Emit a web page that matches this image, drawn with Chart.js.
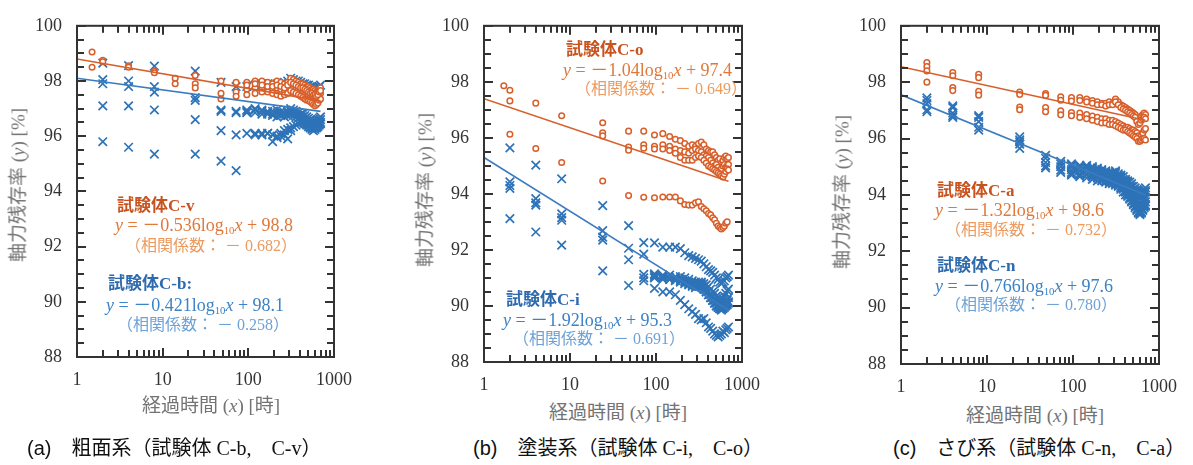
<!DOCTYPE html>
<html>
<head>
<meta charset="utf-8">
<script src="https://cdn.jsdelivr.net/npm/chart.js@4.4.1/dist/chart.umd.min.js"></script>
<style>
  body { margin: 0; background: #fff; width: 1193px; height: 465px; position: relative; overflow: hidden;
         font-family: "Liberation Serif", "Times New Roman", "Noto Sans CJK JP", serif; }
  .panel { position: absolute; top: 0; height: 400px; }
  .t { position: absolute; white-space: nowrap; line-height: 1; }
  .ttl { font-size: 17px; font-weight: bold; }
  .eq { font-size: 18px; }
  .cor { font-size: 16px; }
  .o1 { color: #c9531f; } .o2 { color: #e0783a; } .o3 { color: #ec9a5e; }
  .b1 { color: #2e6aae; } .b2 { color: #3b82c6; } .b3 { color: #6ea2d6; }
  .ax { position: absolute; white-space: nowrap; line-height: 1; font-size: 19px; color: #737373;
        transform: translate(-50%, -50%); }
  .ay { transform: translate(-50%, -50%) rotate(-90deg); }
  .cap { position: absolute; white-space: nowrap; line-height: 1; font-size: 20px; color: #111; }
  .cap span { font-family: "Liberation Sans", sans-serif; }
  sub { font-size: 60%; vertical-align: -0.25em; line-height: 0; }
</style>
</head>
<body>
<div class="panel" style="left:0;width:364px"><canvas id="ca"></canvas></div>
<div class="panel" style="left:400px;width:372px"><canvas id="cb"></canvas></div>
<div class="panel" style="left:820px;width:369px"><canvas id="cc"></canvas></div>

<!-- (a) -->
<div class="t ttl o1" style="left:117px;top:197px">試験体C-v</div>
<div class="t eq o2" style="left:115px;top:216px"><i>y</i> = －0.536log<sub>10</sub><i>x</i> + 98.8</div>
<div class="t cor o3" style="left:125px;top:238px">（相関係数： － 0.682）</div>
<div class="t ttl b1" style="left:108px;top:275px">試験体C-b:</div>
<div class="t eq b2" style="left:106px;top:296px"><i>y</i> = －0.421log<sub>10</sub><i>x</i> + 98.1</div>
<div class="t cor b3" style="left:117px;top:317px">（相関係数： － 0.258）</div>
<div class="ax ay" style="left:18px;top:185px">軸力残存率 (<i>y</i>) [%]</div>
<div class="ax" style="left:211px;top:405px">経過時間 (<i>x</i>) [時]</div>
<div class="cap" style="left:27px;top:438px"><span>(a)</span>　粗面系（試験体 C-b,　C-v）</div>

<!-- (b) -->
<div class="t ttl o1" style="left:566px;top:41px">試験体C-o</div>
<div class="t eq o2" style="left:563px;top:61px"><i>y</i> = －1.04log<sub>10</sub><i>x</i> + 97.4</div>
<div class="t cor o3" style="left:575px;top:81px">（相関係数： － 0.649）</div>
<div class="t ttl b1" style="left:506px;top:291px">試験体C-i</div>
<div class="t eq b2" style="left:503px;top:311px"><i>y</i> = －1.92log<sub>10</sub><i>x</i> + 95.3</div>
<div class="t cor b3" style="left:513px;top:331px">（相関係数： － 0.691）</div>
<div class="ax ay" style="left:425px;top:190px">軸力残存率 (<i>y</i>) [%]</div>
<div class="ax" style="left:618px;top:412px">経過時間 (<i>x</i>) [時]</div>
<div class="cap" style="left:473px;top:438px"><span>(b)</span>　塗装系（試験体 C-i,　C-o）</div>

<!-- (c) -->
<div class="t ttl o1" style="left:937px;top:182px">試験体C-a</div>
<div class="t eq o2" style="left:935px;top:201px"><i>y</i> = －1.32log<sub>10</sub><i>x</i> + 98.6</div>
<div class="t cor o3" style="left:945px;top:222px">（相関係数： － 0.732）</div>
<div class="t ttl b1" style="left:937px;top:257px">試験体C-n</div>
<div class="t eq b2" style="left:935px;top:277px"><i>y</i> = －0.766log<sub>10</sub><i>x</i> + 97.6</div>
<div class="t cor b3" style="left:945px;top:297px">（相関係数： － 0.780）</div>
<div class="ax ay" style="left:842px;top:192px">軸力残存率 (<i>y</i>) [%]</div>
<div class="ax" style="left:1035px;top:415px">経過時間 (<i>x</i>) [時]</div>
<div class="cap" style="left:893px;top:438px"><span>(c)</span>　さび系（試験体 C-n,　C-a）</div>

<script>
// elapsed hours of every reading (same schedule for all bolts)
const hours = [2, 4, 8, 24, 48, 72, 96, 120, 144, 168, 192, 216, 240, 264, 288, 312, 336, 360,
               384, 408, 432, 456, 480, 504, 528, 552, 576, 600, 624, 648, 672, 696];
const xLabels = [1, 10, 100, 1000];
const xMinor = [2, 3, 4, 5, 6, 7, 8, 9, 20, 30, 40, 50, 60, 70, 80, 90, 200, 300, 400, 500, 600, 700, 800, 900];
const yLabels = [88, 90, 92, 94, 96, 98, 100];
const yMinor = [88.5, 89, 89.5, 90.5, 91, 91.5, 92.5, 93, 93.5, 94.5, 95, 95.5, 96.5, 97, 97.5, 98.5, 99, 99.5];
const fitHours = [1, 696];
const N = null;

// (a) C-v (circles)
const cvExtraHours = [1.5, 1.5, 14, 14];
const cvExtraVals = [99.05, 98.5, 98.1, 97.9];
const cv1 = [98.75, 98.55, 98.35, 98.2, 98.0, 97.95, 97.95, 98.0, 98.0, 97.95, 97.9, 98.0, 97.95, 97.9, 97.95, 98.1, 98.05, 98.0, 97.95, 97.9, 97.9, 97.85, 97.8, 97.8, 97.75, 97.7, 97.7, 97.65, 97.6, 97.65, 97.7, 97.75];
const cv2 = [98.7, 98.5, 98.3, 97.9, 97.55, 97.6, 97.7, 97.75, 97.75, 97.7, 97.7, 97.75, 97.7, 97.65, 97.7, 97.85, 97.8, 97.75, 97.7, 97.65, 97.6, 97.6, 97.55, 97.5, 97.45, 97.45, 97.4, 97.4, 97.35, 97.4, 97.5, 97.55];
const cv3 = [N, N, N, 97.75, 97.35, 97.45, 97.5, 97.55, 97.6, 97.6, 97.55, 97.5, 97.45, 97.5, 97.55, 97.65, 97.6, 97.55, 97.5, 97.45, 97.4, 97.35, 97.3, 97.3, 97.25, 97.2, 97.15, 97.1, 97.15, 97.2, 97.3, 97.35];
const cv4 = [N, N, N, N, N, N, 97.85, 97.9, 97.85, 97.8, 97.8, 97.85, 97.8, 97.75, 97.85, 97.95, 97.9, 97.85, 97.8, 97.75, 97.75, 97.7, 97.65, 97.6, 97.55, 97.55, 97.5, 97.5, 97.45, 97.5, 97.6, 97.65];
// (a) C-b (crosses)
const cb1 = [98.65, 98.56, 98.54, 98.36, 97.95, 97.8, 97.8, 97.85, 97.9, 97.9, 97.85, 97.9, 97.9, 97.95, 98.0, 98.1, 98.05, 98.0, 98.0, 97.95, 97.9, 97.9, 97.85, 97.85, 97.8, 97.8, 97.75, 97.75, 97.7, 97.75, 97.8, 97.85];
const cb2 = [98.05, 98.0, 97.8, 97.4, 96.95, 96.9, 96.9, 96.95, 96.9, 96.85, 96.8, 96.85, 96.8, 96.8, 96.85, 96.9, 96.85, 96.8, 96.75, 96.7, 96.7, 96.65, 96.6, 96.55, 96.5, 96.45, 96.45, 96.4, 96.45, 96.5, 96.55, 96.6];
const cb3 = [97.9, 97.8, 97.6, 97.3, 96.9, 96.85, 96.85, 96.85, 96.8, 96.8, 96.75, 96.7, 96.75, 96.7, 96.75, 96.8, 96.75, 96.7, 96.65, 96.6, 96.55, 96.5, 96.45, 96.4, 96.35, 96.3, 96.3, 96.3, 96.35, 96.4, 96.45, 96.5];
const cb4 = [97.1, 97.1, 96.95, 96.6, 96.2, 96.05, 96.1, 96.1, 96.1, 96.1, 96.05, 96.0, 96.1, 96.2, 96.25, 96.3, 96.35, 96.4, 96.45, 96.5, 96.5, 96.45, 96.4, 96.35, 96.3, 96.25, 96.2, 96.25, 96.3, 96.35, 96.4, 96.45];
const cb5 = [95.8, 95.6, 95.35, 95.35, 95.1, 94.75, N, 96.05, 96.05, 96.1, 95.8, 95.95, 96.0, 96.05, 95.9, 96.2, N, N, N, N, N, N, N, N, N, N, N, N, N, N, N, N];
const cb6 = [N, N, N, N, N, N, 96.95, 97.0, 96.95, 96.9, 96.9, 96.95, 96.9, 96.85, 96.9, 97.0, 96.95, 96.9, 96.85, 96.8, 96.8, 96.75, 96.7, 96.65, 96.6, 96.55, 96.55, 96.5, 96.55, 96.6, 96.65, 96.7];
const cvFit = [98.8, 97.28];
const cbFit = [98.1, 96.9];

// (b) C-o (circles)
const coExtraHours = [1.7];
const coExtraVals = [97.86];
const co1 = [97.7, 97.24, 96.79, 96.54, 96.24, 96.24, 96.1, 96.15, 96.05, 95.95, 95.9, 95.8, 95.7, 95.75, 95.7, 95.8, 95.85, 95.75, 95.6, 95.55, 95.5, 95.5, 95.4, 95.3, 95.2, 95.25, 95.1, 95.2, 95.3, 95.35, 95.25, 95.3];
const co2 = [97.32, N, N, 96.18, 95.67, 95.75, 95.7, 95.75, 95.7, 95.6, 95.55, 95.5, 95.45, 95.55, 95.6, 95.55, 95.5, 95.4, 95.35, 95.3, 95.2, 95.1, 95.0, 95.05, 94.95, 94.85, 94.9, 95.0, 95.05, 94.95, 95.0, 95.05];
const co3 = [N, N, N, 96.07, 95.56, 95.63, 95.6, 95.6, 95.55, 95.45, 95.3, 95.2, 95.2, 95.2, 95.3, 95.35, 95.3, 95.2, 95.1, 95.0, 94.95, 94.9, 94.85, 94.8, 94.75, 94.7, 94.65, 94.6, 94.7, 94.8, 94.9, 94.85];
const co4 = [96.13, 95.62, 95.12, 94.46, 93.94, 93.88, 93.86, 93.89, 93.89, 93.89, 93.75, 93.62, 93.6, 93.6, 93.68, 93.72, 93.55, 93.47, 93.4, 93.3, 93.25, 93.15, 93.08, 92.95, 92.85, 92.8, 92.75, 92.8, 92.85, 92.95, 93.0, N];
// (b) C-i (crosses)
const ci1 = [95.64, 95.03, 94.54, 93.58, 92.87, 92.26, 92.25, 92.1, 92.1, 92.1, 92.05, 91.9, 91.8, 91.75, 91.7, 91.65, 91.6, 91.5, 91.4, 91.3, 91.25, 91.2, 91.1, 91.0, 90.95, 90.85, 90.8, 90.85, 90.9, 91.0, 91.05, 91.1];
const ci2 = [94.43, 93.83, 93.29, 92.69, 92.06, 91.85, 91.15, 91.1, 91.1, 91.05, 91.05, 91.0, 90.95, 90.9, 90.85, 90.85, 90.8, 90.8, 90.75, 90.7, 90.6, 90.5, 90.45, 90.35, 90.3, 90.25, 90.2, 90.25, 90.35, 90.45, 90.55, 90.6];
const ci3 = [94.3, 93.68, 93.15, 92.46, 91.65, 91.13, 91.1, 91.05, 91.0, 91.0, 90.95, 90.9, 90.85, 90.8, 90.75, 90.8, 90.85, 90.7, 90.6, 90.5, 90.4, 90.3, 90.2, 90.1, 90.0, 89.95, 89.9, 89.95, 90.0, 90.1, 90.2, 90.3];
const ci4 = [94.2, 93.6, 93.06, 92.35, N, 91.0, 91.05, 91.0, 90.95, 90.95, 90.9, 90.85, 90.8, 90.75, 90.7, 90.75, 90.7, 90.6, 90.5, 90.4, 90.3, 90.2, 90.1, 90.0, 89.95, 89.9, 89.9, 89.95, 90.0, 90.05, 90.1, 90.15];
const ci5 = [93.12, 92.64, 92.17, 91.25, 90.73, 90.9, 90.63, 90.5, 90.5, 90.4, 90.2, 90.05, 89.9, 89.8, 89.7, 89.55, 89.5, 89.55, 89.4, 89.25, 89.2, 89.1, 89.0, 88.95, 88.9, 88.95, 89.0, 89.1, 89.05, 89.15, 89.2, 89.25];
const ci6 = [N, N, N, N, N, N, 91.0, 90.95, 90.95, 90.9, 90.85, 90.8, 90.75, 90.7, 90.65, 90.7, 90.75, 90.6, 90.5, 90.4, 90.3, 90.2, 90.1, 90.0, 89.95, 89.9, 89.85, 89.9, 89.95, 90.0, 90.05, 90.1];
const coFit = [97.4, 94.45];
const ciFit = [95.3, 89.85];

// (c) C-a (circles)
const ca1 = [98.7, 98.34, 98.28, 97.65, 97.6, 97.48, 97.45, 97.45, 97.4, 97.35, 97.3, 97.25, 97.25, 97.3, 97.25, 97.4, 97.3, 97.2, 97.15, 97.1, 97.05, 97.0, 96.95, 96.9, 96.85, 96.7, 96.65, 96.7, 96.8, 96.85, 96.9, 96.85];
const ca2 = [98.55, 98.23, 98.16, 97.56, 97.53, 97.36, 97.33, 97.35, 97.3, 97.25, 97.2, 97.2, 97.15, 97.2, 97.2, 97.3, 97.2, 97.1, 97.05, 97.0, 96.95, 96.9, 96.85, 96.8, 96.75, 96.6, 96.5, 96.55, 96.65, 96.7, 96.75, 96.7];
const ca3 = [98.4, 97.81, 97.68, 97.12, 97.1, 96.98, 96.92, 96.9, 96.85, 96.8, 96.75, 96.7, 96.7, 96.65, 96.65, 96.6, 96.55, 96.5, 96.45, 96.4, 96.4, 96.35, 96.3, 96.3, 96.25, 96.2, 96.1, 96.0, 96.1, 96.2, 96.3, 96.35];
const ca4 = [98.0, 97.7, 97.54, 97.02, 96.95, 96.84, 96.81, 96.75, 96.7, 96.65, 96.6, 96.55, 96.55, 96.5, 96.5, 96.45, 96.4, 96.35, 96.3, 96.3, 96.25, 96.2, 96.15, 96.1, 96.05, 96.0, 95.9, 95.9, 95.95, 96.0, 96.0, 95.95];
// (c) C-n (crosses)
const cn1 = [97.44, 97.16, 96.81, 96.06, 95.4, 95.19, 95.1, 95.05, 95.05, 95.0, 94.95, 94.9, 94.85, 94.8, 94.8, 94.85, 94.75, 94.7, 94.65, 94.55, 94.5, 94.45, 94.4, 94.3, 94.25, 94.15, 94.1, 94.05, 94.1, 94.15, 94.2, 94.25];
const cn2 = [97.35, 97.1, 96.75, 95.95, 95.3, 95.1, 95.0, 94.95, 94.95, 94.9, 94.85, 94.8, 94.75, 94.7, 94.7, 94.75, 94.65, 94.6, 94.5, 94.45, 94.4, 94.3, 94.25, 94.15, 94.1, 94.0, 93.95, 93.9, 93.95, 94.0, 94.05, 94.1];
const cn3 = [97.24, 96.9, 96.6, 95.88, 95.15, 95.0, 94.9, 94.85, 94.85, 94.8, 94.75, 94.7, 94.65, 94.6, 94.6, 94.6, 94.55, 94.45, 94.4, 94.3, 94.25, 94.15, 94.05, 94.0, 93.9, 93.8, 93.7, 93.65, 93.7, 93.8, 93.85, 93.9];
const cn4 = [97.02, 96.81, 96.4, 95.65, 95.03, 94.88, 94.8, 94.75, 94.75, 94.7, 94.65, 94.6, 94.55, 94.5, 94.5, 94.5, 94.4, 94.3, 94.25, 94.15, 94.1, 94.0, 93.9, 93.8, 93.7, 93.6, 93.5, 93.45, 93.5, 93.6, 93.7, 93.75];
const cn5 = [96.95, 96.75, 96.3, 95.8, 94.96, 94.8, 94.7, 94.65, 94.6, 94.55, 94.5, 94.5, 94.45, 94.4, 94.4, 94.35, 94.3, 94.2, 94.1, 94.0, 93.95, 93.85, 93.75, 93.65, 93.55, 93.45, 93.35, 93.3, 93.35, 93.45, 93.55, 93.6];
const cn6 = [N, N, N, N, N, N, 95.05, 95.0, 95.0, 94.95, 94.9, 94.85, 94.8, 94.75, 94.75, 94.8, 94.7, 94.65, 94.55, 94.5, 94.45, 94.35, 94.3, 94.2, 94.15, 94.05, 94.0, 93.95, 94.0, 94.05, 94.1, 94.15];
const cn7 = [N, N, N, N, N, N, 94.75, 94.7, 94.7, 94.65, 94.6, 94.55, 94.5, 94.45, 94.45, 94.4, 94.35, 94.25, 94.2, 94.1, 94.0, 93.9, 93.8, 93.7, 93.6, 93.5, 93.4, 93.35, 93.4, 93.5, 93.6, 93.65];
const caFit = [98.55, 96.65];
const cnFit = [97.55, 94.0];

const ORANGE = '#d85f2a';
const BLUE = '#2e73b8';
const SERIF = '"Liberation Serif", "Times New Roman", serif';

function points(xs, ys) {
  return ys.map((v, i) => ({ x: xs[i], y: v })).filter(p => p.y !== null);
}
function tracks(list) {
  return list.flatMap(t => points(hours, t));
}

// frame + inward tick marks on all four sides
const frameTicks = {
  id: 'frameTicks',
  afterDraw(chart) {
    const ctx = chart.ctx;
    const a = chart.chartArea;
    const sx = chart.scales.x;
    const sy = chart.scales.y;
    ctx.save();
    ctx.fillStyle = '#333';
    for (const v of xLabels.concat(xMinor)) {
      const len = xLabels.includes(v) ? 9 : 7;
      const px = Math.round(sx.getPixelForValue(v));
      ctx.fillRect(px - 1, a.bottom - len, 2, len);
      ctx.fillRect(px - 1, a.top, 2, len);
    }
    for (const v of yLabels.concat(yMinor)) {
      const len = yLabels.includes(v) ? 9 : 7;
      const py = Math.round(sy.getPixelForValue(v));
      ctx.fillRect(a.left, py - 1, len, 2);
      ctx.fillRect(a.right - len, py - 1, len, 2);
    }
    ctx.strokeStyle = '#333';
    ctx.lineWidth = 2;
    ctx.strokeRect(a.left, a.top, a.right - a.left, a.bottom - a.top);
    ctx.restore();
  }
};

function makePanel(id, pad, circles, crosses, fitO, fitB) {
  new Chart(document.getElementById(id), {
    type: 'scatter',
    data: {
      datasets: [
        { data: points(fitHours, fitO), showLine: true, pointRadius: 0, borderColor: ORANGE, borderWidth: 1.6, order: 0 },
        { data: points(fitHours, fitB), showLine: true, pointRadius: 0, borderColor: '#3a7cc0', borderWidth: 1.6, order: 0 },
        { data: circles, pointStyle: 'circle', pointRadius: 2.8, borderWidth: 1.5,
          borderColor: ORANGE, backgroundColor: '#fff', order: 1 },
        { data: crosses, pointStyle: 'crossRot', pointRadius: 6, borderWidth: 1.7,
          borderColor: BLUE, order: 2 }
      ]
    },
    options: {
      responsive: true,
      maintainAspectRatio: false,
      animation: false,
      layout: { padding: pad },
      plugins: { legend: { display: false }, tooltip: { enabled: false } },
      scales: {
        x: {
          type: 'logarithmic', min: 1, max: 1000,
          grid: { display: false, drawTicks: false }, border: { display: false },
          afterBuildTicks: s => { s.ticks = xLabels.map(v => ({ value: v })); },
          afterFit: s => { s.height = 30; },
          ticks: { autoSkip: false, maxRotation: 0, padding: 12, color: '#333',
                   font: { family: SERIF, size: 18 }, callback: v => String(v) }
        },
        y: {
          min: 88, max: 100,
          grid: { display: false, drawTicks: false }, border: { display: false },
          afterFit: s => { s.width = 45; },
          ticks: { stepSize: 2, autoSkip: false, padding: 15, color: '#333',
                   font: { family: SERIF, size: 18 } }
        }
      }
    },
    plugins: [frameTicks]
  });
}

// label overflow adds ~12px on top and ~10px on the right, so the paddings are reduced by that
makePanel('ca', { left: 32, top: 1, right: 10, bottom: 13 },
  tracks([cv1, cv2, cv3, cv4]).concat(points(cvExtraHours, cvExtraVals)),
  tracks([cb1, cb2, cb3, cb4, cb5, cb6]), cvFit, cbFit);
makePanel('cb', { left: 39, top: 4, right: 10, bottom: 8 },
  tracks([co1, co2, co3, co4]).concat(points(coExtraHours, coExtraVals)),
  tracks([ci1, ci2, ci3, ci4, ci5, ci6]), coFit, ciFit);
makePanel('cc', { left: 36, top: 6, right: 10, bottom: 6 },
  tracks([ca1, ca2, ca3, ca4]),
  tracks([cn1, cn2, cn3, cn4, cn5, cn6, cn7]), caFit, cnFit);
</script>
</body>
</html>
